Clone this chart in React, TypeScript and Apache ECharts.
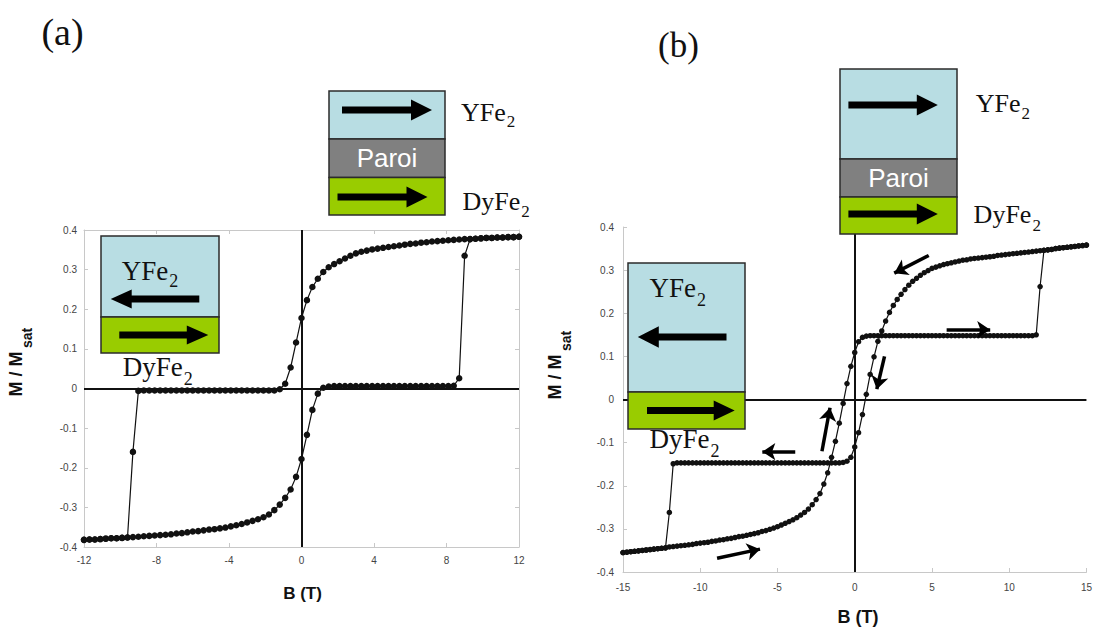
import React, { useEffect, useRef } from "react";
import * as echarts from "echarts";

// ---------- data: panel (a) ----------
const A_X_TICKS = [-12, -8, -4, 0, 4, 8, 12];
const A_Y_TICKS = [-0.4, -0.3, -0.2, -0.1, 0, 0.1, 0.2, 0.3, 0.4];

// field decreasing from +12 T
const A_DOWN: [number, number][] = [
  [12, 0.383], [11.7, 0.382], [11.4, 0.382], [11.1, 0.381], [10.8, 0.381], [10.5, 0.38], [10.2, 0.38], [9.9, 0.379], [9.6, 0.378], [9.3, 0.377],
  [9, 0.377], [8.7, 0.376], [8.4, 0.375], [8.1, 0.374], [7.8, 0.373], [7.5, 0.372], [7.2, 0.371], [6.9, 0.369], [6.6, 0.368], [6.3, 0.366],
  [6, 0.365], [5.7, 0.363], [5.4, 0.361], [5.1, 0.359], [4.8, 0.357], [4.5, 0.355], [4.2, 0.353], [3.9, 0.351], [3.6, 0.348], [3.3, 0.345],
  [3, 0.341], [2.7, 0.335], [2.4, 0.328], [2.1, 0.321], [1.8, 0.314], [1.5, 0.306], [1.2, 0.294], [0.9, 0.277], [0.6, 0.256], [0.3, 0.223],
  [0, 0.178], [-0.3, 0.116], [-0.6, 0.053], [-0.9, 0.012], [-1.2, -0.002], [-1.5, -0.005], [-1.8, -0.005], [-2.1, -0.005], [-2.4, -0.005], [-2.7, -0.005],
  [-3, -0.005], [-3.3, -0.005], [-3.6, -0.005], [-3.9, -0.005], [-4.2, -0.005], [-4.5, -0.005], [-4.8, -0.005], [-5.1, -0.005], [-5.4, -0.005], [-5.7, -0.005],
  [-6, -0.005], [-6.3, -0.005], [-6.6, -0.005], [-6.9, -0.005], [-7.2, -0.005], [-7.5, -0.005], [-7.8, -0.005], [-8.1, -0.005], [-8.4, -0.005], [-8.7, -0.005],
  [-9, -0.006], [-9.3, -0.16], [-9.6, -0.376], [-9.9, -0.377], [-10.2, -0.378], [-10.5, -0.378], [-10.8, -0.379], [-11.1, -0.38], [-11.4, -0.381], [-11.7, -0.381],
  [-12, -0.382],
];

// field increasing from -12 T
const A_UP: [number, number][] = [
  [-12, -0.382], [-11.7, -0.381], [-11.4, -0.381], [-11.1, -0.38], [-10.8, -0.379], [-10.5, -0.378], [-10.2, -0.378], [-9.9, -0.377], [-9.6, -0.376], [-9.3, -0.375],
  [-9, -0.374], [-8.7, -0.373], [-8.4, -0.372], [-8.1, -0.371], [-7.8, -0.37], [-7.5, -0.369], [-7.2, -0.368], [-6.9, -0.366], [-6.6, -0.365], [-6.3, -0.363],
  [-6, -0.361], [-5.7, -0.36], [-5.4, -0.358], [-5.1, -0.356], [-4.8, -0.355], [-4.5, -0.353], [-4.2, -0.351], [-3.9, -0.348], [-3.6, -0.345], [-3.3, -0.342],
  [-3, -0.338], [-2.7, -0.334], [-2.4, -0.33], [-2.1, -0.325], [-1.8, -0.318], [-1.5, -0.307], [-1.2, -0.293], [-0.9, -0.276], [-0.6, -0.255], [-0.3, -0.223],
  [0, -0.178], [0.3, -0.117], [0.6, -0.054], [0.9, -0.013], [1.2, 0.002], [1.5, 0.005], [1.8, 0.006], [2.1, 0.006], [2.4, 0.006], [2.7, 0.006],
  [3, 0.006], [3.3, 0.006], [3.6, 0.006], [3.9, 0.006], [4.2, 0.006], [4.5, 0.006], [4.8, 0.006], [5.1, 0.006], [5.4, 0.006], [5.7, 0.006],
  [6, 0.006], [6.3, 0.006], [6.6, 0.006], [6.9, 0.006], [7.2, 0.006], [7.5, 0.006], [7.8, 0.006], [8.1, 0.006], [8.4, 0.007], [8.7, 0.026],
  [9, 0.335], [9.3, 0.377], [9.6, 0.378], [9.9, 0.379], [10.2, 0.38], [10.5, 0.38], [10.8, 0.381], [11.1, 0.381], [11.4, 0.382], [11.7, 0.382],
  [12, 0.383],
];

// ---------- data: panel (b) ----------
const B_X_TICKS = [-15, -10, -5, 0, 5, 10, 15];
const B_Y_TICKS = [-0.4, -0.3, -0.2, -0.1, 0, 0.1, 0.2, 0.3, 0.4];

const B_DOWN: [number, number][] = [
  [15, 0.358], [14.75, 0.357], [14.5, 0.356], [14.25, 0.355], [14, 0.354], [13.75, 0.353], [13.5, 0.352], [13.25, 0.351], [13, 0.35], [12.75, 0.348],
  [12.5, 0.347], [12.25, 0.346], [12, 0.345], [11.75, 0.344], [11.5, 0.343], [11.25, 0.342], [11, 0.341], [10.75, 0.34], [10.5, 0.339], [10.25, 0.338],
  [10, 0.337], [9.75, 0.336], [9.5, 0.335], [9.25, 0.334], [9, 0.332], [8.75, 0.331], [8.5, 0.33], [8.25, 0.329], [8, 0.328], [7.75, 0.327],
  [7.5, 0.326], [7.25, 0.324], [7, 0.323], [6.75, 0.321], [6.5, 0.319], [6.25, 0.317], [6, 0.315], [5.75, 0.313], [5.5, 0.31], [5.25, 0.307],
  [5, 0.304], [4.75, 0.299], [4.5, 0.294], [4.25, 0.288], [4, 0.281], [3.75, 0.274], [3.5, 0.265], [3.25, 0.255], [3, 0.244], [2.75, 0.232],
  [2.5, 0.218], [2.25, 0.202], [2, 0.182], [1.75, 0.159], [1.5, 0.135], [1.25, 0.099], [1, 0.058], [0.75, 0.012], [0.5, -0.035], [0.25, -0.077],
  [0, -0.11], [-0.25, -0.134], [-0.5, -0.143], [-0.75, -0.146], [-1, -0.147], [-1.25, -0.147], [-1.5, -0.147], [-1.75, -0.147], [-2, -0.147], [-2.25, -0.147],
  [-2.5, -0.147], [-2.75, -0.147], [-3, -0.147], [-3.25, -0.147], [-3.5, -0.147], [-3.75, -0.147], [-4, -0.147], [-4.25, -0.147], [-4.5, -0.147], [-4.75, -0.147],
  [-5, -0.147], [-5.25, -0.147], [-5.5, -0.147], [-5.75, -0.147], [-6, -0.147], [-6.25, -0.147], [-6.5, -0.147], [-6.75, -0.147], [-7, -0.147], [-7.25, -0.147],
  [-7.5, -0.147], [-7.75, -0.147], [-8, -0.147], [-8.25, -0.147], [-8.5, -0.147], [-8.75, -0.147], [-9, -0.147], [-9.25, -0.147], [-9.5, -0.147], [-9.75, -0.147],
  [-10, -0.147], [-10.25, -0.147], [-10.5, -0.147], [-10.75, -0.147], [-11, -0.147], [-11.25, -0.147], [-11.5, -0.147], [-11.75, -0.149], [-12, -0.262], [-12.25, -0.344],
  [-12.5, -0.345], [-12.75, -0.346], [-13, -0.347], [-13.25, -0.348], [-13.5, -0.349], [-13.75, -0.35], [-14, -0.351], [-14.25, -0.352], [-14.5, -0.353], [-14.75, -0.354],
  [-15, -0.355],
];

const B_UP: [number, number][] = [
  [-15, -0.355], [-14.75, -0.354], [-14.5, -0.353], [-14.25, -0.352], [-14, -0.351], [-13.75, -0.35], [-13.5, -0.349], [-13.25, -0.348], [-13, -0.347], [-12.75, -0.346],
  [-12.5, -0.345], [-12.25, -0.344], [-12, -0.342], [-11.75, -0.341], [-11.5, -0.34], [-11.25, -0.339], [-11, -0.338], [-10.75, -0.337], [-10.5, -0.336], [-10.25, -0.334],
  [-10, -0.333], [-9.75, -0.332], [-9.5, -0.331], [-9.25, -0.329], [-9, -0.328], [-8.75, -0.326], [-8.5, -0.325], [-8.25, -0.323], [-8, -0.322], [-7.75, -0.32],
  [-7.5, -0.318], [-7.25, -0.317], [-7, -0.315], [-6.75, -0.313], [-6.5, -0.311], [-6.25, -0.309], [-6, -0.306], [-5.75, -0.304], [-5.5, -0.301], [-5.25, -0.298],
  [-5, -0.295], [-4.75, -0.291], [-4.5, -0.287], [-4.25, -0.283], [-4, -0.279], [-3.75, -0.274], [-3.5, -0.268], [-3.25, -0.262], [-3, -0.254], [-2.75, -0.244],
  [-2.5, -0.232], [-2.25, -0.218], [-2, -0.196], [-1.75, -0.17], [-1.5, -0.134], [-1.25, -0.097], [-1, -0.055], [-0.75, -0.009], [-0.5, 0.037], [-0.25, 0.077],
  [0, 0.109], [0.25, 0.134], [0.5, 0.144], [0.75, 0.147], [1, 0.148], [1.25, 0.148], [1.5, 0.148], [1.75, 0.148], [2, 0.148], [2.25, 0.148],
  [2.5, 0.148], [2.75, 0.148], [3, 0.148], [3.25, 0.148], [3.5, 0.148], [3.75, 0.148], [4, 0.148], [4.25, 0.148], [4.5, 0.148], [4.75, 0.148],
  [5, 0.148], [5.25, 0.148], [5.5, 0.148], [5.75, 0.148], [6, 0.148], [6.25, 0.148], [6.5, 0.148], [6.75, 0.148], [7, 0.148], [7.25, 0.148],
  [7.5, 0.148], [7.75, 0.148], [8, 0.148], [8.25, 0.148], [8.5, 0.148], [8.75, 0.148], [9, 0.148], [9.25, 0.148], [9.5, 0.148], [9.75, 0.148],
  [10, 0.148], [10.25, 0.148], [10.5, 0.148], [10.75, 0.148], [11, 0.148], [11.25, 0.148], [11.5, 0.148], [11.75, 0.15], [12, 0.262], [12.25, 0.346],
  [12.5, 0.347], [12.75, 0.348], [13, 0.35], [13.25, 0.351], [13.5, 0.352], [13.75, 0.353], [14, 0.354], [14.25, 0.355], [14.5, 0.356], [14.75, 0.357],
  [15, 0.358],
];

// sweep-direction arrows in panel (b): [tail, tip] in (B, M)
const B_ARROWS: [[number, number], [number, number]][] = [
  [[4.79, 0.334], [2.56, 0.293]],
  [[5.95, 0.162], [8.77, 0.162]],
  [[1.93, 0.1], [1.43, 0.024]],
  [[-2.12, -0.12], [-1.6, -0.019]],
  [[-3.85, -0.121], [-5.98, -0.121]],
  [[-8.91, -0.368], [-6.13, -0.347]],
];

const SERIF = "'Liberation Serif', 'Times New Roman', serif";
const SANS = "'Liberation Sans', Arial, sans-serif";
const BLUE = "#b8dde3";
const GRAY = "#808080";
const GREEN = "#99cc00";

function txt(x: number, y: number, text: string, size: number, family: string, extra: any = {}) {
  const { align = "left", vAlign = "middle", weight = "normal", fill = "#111", rotation = 0 } = extra;
  return {
    type: "text",
    x,
    y,
    rotation,
    z: 200,
    style: {
      text,
      fontSize: size,
      fontFamily: family,
      fontWeight: weight,
      fill,
      align,
      textAlign: align,
      verticalAlign: vAlign,
      textVerticalAlign: vAlign,
    },
  };
}

function rect(x: number, y: number, w: number, h: number, fill: string) {
  return {
    type: "rect",
    z: 150,
    shape: { x, y, width: w, height: h },
    style: { fill, stroke: "#2b2b2b", lineWidth: 1.5 },
  };
}

function arrow(x1: number, x2: number, yc: number, shaft: number, headH: number, headL: number) {
  const d = Math.sign(x2 - x1);
  const hb = x2 - d * headL;
  return {
    type: "polygon",
    z: 160,
    shape: {
      points: [
        [x1, yc - shaft / 2],
        [hb, yc - shaft / 2],
        [hb, yc - headH / 2],
        [x2, yc],
        [hb, yc + headH / 2],
        [hb, yc + shaft / 2],
        [x1, yc + shaft / 2],
      ],
    },
    style: { fill: "#000" },
  };
}

function formula(x: number, y: number, main: string, size: number, subSize: number, mainW: number, subDy: number) {
  return [
    txt(x, y, main, size, SERIF),
    txt(x + mainW + 1, y + subDy, "2", subSize, SERIF),
  ];
}

const axisGray = "#c8c8c8";
const labelStyle = { fontSize: 10, color: "#444", fontFamily: SANS };
const fmt = (v: number) => String(Math.round(v * 10) / 10);

function valueAxis(grid: number, ticks: number[], pos: string, showLabel: boolean, margin: number) {
  return {
    type: "value",
    gridIndex: grid,
    position: pos,
    min: ticks[0],
    max: ticks[ticks.length - 1],
    interval: ticks[1] - ticks[0],
    axisLine: { show: true, onZero: false, lineStyle: { color: axisGray, width: 1 } },
    axisTick: { show: true, inside: true, length: 4, lineStyle: { color: axisGray } },
    axisLabel: { show: showLabel, margin, formatter: fmt, ...labelStyle },
    splitLine: { show: false },
  };
}

function loopSeries(data: [number, number][], ax: number, size: number) {
  return {
    type: "line",
    xAxisIndex: ax,
    yAxisIndex: ax,
    data,
    symbol: "circle",
    symbolSize: size,
    showSymbol: true,
    lineStyle: { color: "#111", width: 1.2 },
    itemStyle: { color: "#111" },
    z: 5,
    silent: true,
  };
}

function zeroLines(ax: number) {
  return {
    type: "line",
    xAxisIndex: ax,
    yAxisIndex: ax,
    data: [],
    silent: true,
    z: 3,
    markLine: {
      silent: true,
      symbol: ["none", "none"],
      label: { show: false },
      lineStyle: { color: "#111", width: 2, type: "solid" },
      data: [{ xAxis: 0 }, { yAxis: 0 }],
    },
  };
}

export default function App() {
  const ref = useRef<HTMLDivElement>(null);
  useEffect(() => {
    document.body.style.margin = "0";
    const chart = echarts.init(ref.current!, null, { renderer: "svg", width: 1095, height: 628 });

    const graphics: any[] = [
      txt(62.5, 32, "(a)", 38, SERIF, { align: "center" }),
      txt(678.5, 45, "(b)", 35, SERIF, { align: "center" }),

      // (a) top diagram
      rect(329, 91, 116, 48, BLUE),
      rect(329, 139, 116, 38.5, GRAY),
      rect(329, 177.5, 116, 37.5, GREEN),
      arrow(342, 432, 110, 7, 21, 21),
      arrow(337.5, 427.5, 197, 7, 21, 21),
      txt(387, 158, "Paroi", 26, SANS, { align: "center", fill: "#fff" }),
      ...formula(461, 112, "YFe", 26, 17, 44.8, 9),
      ...formula(462.5, 201.6, "DyFe", 26, 17, 57.8, 9.5),

      // (a) inset diagram
      rect(101, 236, 118, 81, BLUE),
      rect(101, 317, 118, 36, GREEN),
      arrow(199.3, 110.7, 299, 7, 19, 21),
      arrow(119.3, 208.3, 335, 7, 19, 21.5),
      ...formula(121.7, 270.5, "YFe", 27, 18, 46.5, 10.5),
      ...formula(122.7, 367.2, "DyFe", 27, 18, 60, 11.5),

      // (b) top diagram
      rect(840, 69, 117, 90, BLUE),
      rect(840, 159, 117, 38, GRAY),
      rect(840, 197, 117, 37, GREEN),
      arrow(848.4, 937.8, 105, 7, 21, 21),
      arrow(848.4, 937.8, 214, 7, 21, 21),
      txt(898.5, 178, "Paroi", 26, SANS, { align: "center", fill: "#fff" }),
      ...formula(975.7, 103.5, "YFe", 26, 17, 44.8, 10),
      ...formula(973.6, 214.4, "DyFe", 26, 17, 57.8, 11.5),

      // (b) inset diagram
      rect(628, 263, 117, 129, BLUE),
      rect(628, 392, 117, 37, GREEN),
      arrow(726.5, 637.8, 337, 7, 21.5, 21),
      arrow(647, 734.7, 410.4, 7, 20, 21),
      ...formula(649.4, 288.3, "YFe", 27, 18, 46.5, 11.5),
      ...formula(649.4, 439, "DyFe", 27, 18, 60, 12),

      // axis titles
      txt(302.5, 593, "B (T)", 17, SANS, { align: "center", weight: "bold" }),
      txt(858, 617, "B (T)", 18, SANS, { align: "center", weight: "bold" }),
      txt(16, 374, "M / M", 18, SANS, { align: "center", weight: "bold", rotation: Math.PI / 2 }),
      txt(27, 338, "sat", 14, SANS, { align: "center", weight: "bold", rotation: Math.PI / 2 }),
      txt(555, 377, "M / M", 18, SANS, { align: "center", weight: "bold", rotation: Math.PI / 2 }),
      txt(566, 341, "sat", 14, SANS, { align: "center", weight: "bold", rotation: Math.PI / 2 }),
    ];

    chart.setOption({
      animation: false,
      backgroundColor: "#fff",
      grid: [
        { left: 84, top: 230, width: 435, height: 317 },
        { left: 623, top: 227, width: 468, height: 345 },
      ],
      xAxis: [
        valueAxis(0, A_X_TICKS, "bottom", true, 8),
        valueAxis(0, A_X_TICKS, "top", false, 8),
        valueAxis(1, B_X_TICKS, "bottom", true, 10),
      ],
      yAxis: [
        valueAxis(0, A_Y_TICKS, "left", true, 7),
        valueAxis(0, A_Y_TICKS, "right", false, 7),
        valueAxis(1, B_Y_TICKS, "left", true, 9),
      ],
      series: [
        zeroLines(0),
        loopSeries(A_DOWN, 0, 6.5),
        loopSeries(A_UP, 0, 6.5),
        { ...zeroLines(0), xAxisIndex: 2, yAxisIndex: 2 },
        loopSeries(B_DOWN, 2, 5.5),
        loopSeries(B_UP, 2, 5.5),
        {
          type: "lines",
          coordinateSystem: "cartesian2d",
          xAxisIndex: 2,
          yAxisIndex: 2,
          silent: true,
          z: 6,
          symbol: ["none", "arrow"],
          symbolSize: 13,
          lineStyle: { color: "#000", width: 3.5, opacity: 1 },
          data: B_ARROWS.map((c) => ({ coords: c })),
        },
      ],
      graphic: { elements: graphics },
    });
    return () => chart.dispose();
  }, []);
  return <div ref={ref} style={{ width: 1095, height: 628, background: "#fff" }} />;
}
